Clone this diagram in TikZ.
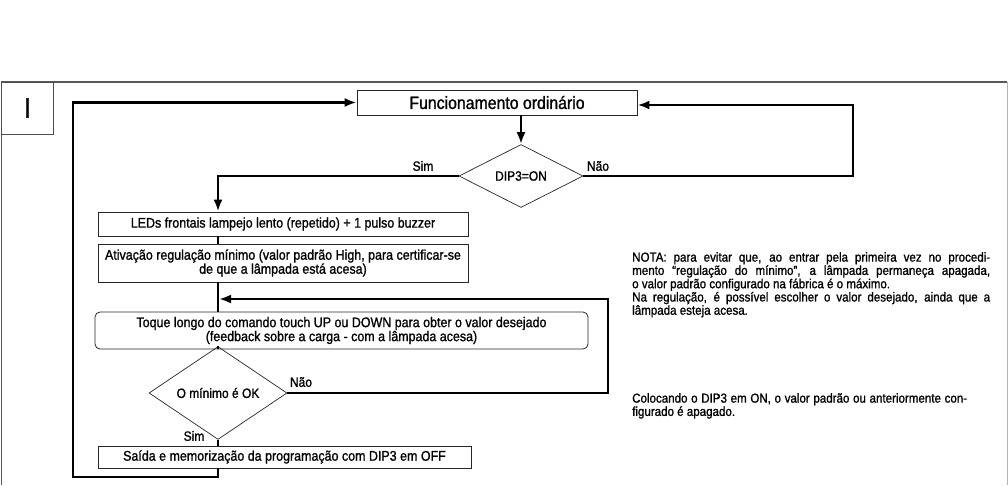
\documentclass[tikz,border=0pt]{standalone}
\usepackage{fontspec}
\setmainfont{Liberation Sans}[FakeStretch=0.89,FakeBold=1.1]
\usetikzlibrary{arrows.meta,shapes.geometric}
\begin{document}
\begin{tikzpicture}[x=1pt,y=-1pt,
  box/.style={draw=black!85,line width=.8pt,inner sep=0pt,align=center,font=\fontsize{14}{14}\selectfont},
  choice/.style={diamond,draw=black!85,line width=.7pt,inner sep=0pt,font=\fontsize{13.5}{14}\selectfont},
  tag/.style={font=\fontsize{13.5}{14}\selectfont},
  flow/.style={line width=2.5pt,-{Latex[length=12pt,width=9pt]}},
  link/.style={line width=2.5pt},
  note/.style={anchor=north west,inner sep=0pt,align=justify,font=\fontsize{13}{11.3}\selectfont}]
\useasboundingbox (0,0) rectangle (1008,485);
\draw[black!65,line width=1.2pt] (1.5,485)--(1.5,82)--(1007,82);
\draw[black!30,line width=1pt] (1007,82)--(1007,485);
\node[draw=black!70,line width=.8pt,minimum width=52,minimum height=52,font=\fontsize{28}{30}\selectfont] (part) at (27.5,108) {I};
\node[box,minimum width=280,minimum height=25,font=\fontsize{17.8}{18}\selectfont] (func) at (497,102.5) {Funcionamento ordinário};
\node[choice,minimum width=124,minimum height=63] (dip) at (521,176) {DIP3=ON};
\node[box,minimum width=370,minimum height=24] (leds) at (283,224) {LEDs frontais lampejo lento (repetido) + 1 pulso buzzer};
\node[box,minimum width=370,minimum height=38] (ativ) at (283,263) {Ativação regulação mínimo (valor padrão High, para certificar-se\\de que a lâmpada está acesa)};
\node[box,rounded corners=5pt,minimum width=493,minimum height=37] (toque) at (341.5,330.5) {Toque longo do comando touch UP ou DOWN para obter o valor desejado\\(feedback sobre a carga - com a lâmpada acesa)};
\node[choice,minimum width=138,minimum height=69] (ok) at (218,393) {O mínimo é OK};
\node[box,minimum width=373,minimum height=22] (saida) at (284.5,457) {Saída e memorização da programação com DIP3 em OFF};
\node[tag] (sim1) at (423,166) {Sim};
\node[tag] (nao1) at (598,166) {Não};
\node[tag] (nao2) at (301,382) {Não};
\node[tag] (sim2) at (194,436) {Sim};
\coordinate (c1) at (218,176);
\coordinate (r1) at (853,105);
\coordinate (r2) at (608,299);
\coordinate (b1) at (73,477);
\draw[flow] (dip.north |- func.south)--(dip.north);
\draw[flow] (dip.west)--(c1)--(c1 |- leds.north);
\draw[flow] (dip.east)-|(r1)--(r1 -| func.east);
\draw[link] (leds.south -| c1)--(ativ.north -| c1);
\draw[link] (ativ.south -| c1)--(toque.north -| c1);
\draw[flow] (ok.east)-|(r2)--([xshift=1pt]r2 -| c1);
\draw[link] (toque.south -| ok.north)--(ok.north);
\draw[link] (ok.south)--(saida.north -| ok.south);
\draw[flow] (saida.south -| ok.south)|-(b1)--(b1 |- func.west)--(func.west);
\node[note,text width=358] (nota) at (632,252) {NOTA: para evitar que, ao entrar pela primeira vez no procedi-\linebreak mento “regulação do mínimo”, a lâmpada permaneça apagada,\linebreak o valor padrão configurado na fábrica é o máximo.\\Na regulação, é possível escolher o valor desejado, ainda que a\linebreak lâmpada esteja acesa.};
\node[note,text width=335] (dipnote) at (632,393) {Colocando o DIP3 em ON, o valor padrão ou anteriormente con-\linebreak figurado é apagado.};
\end{tikzpicture}
\end{document}
